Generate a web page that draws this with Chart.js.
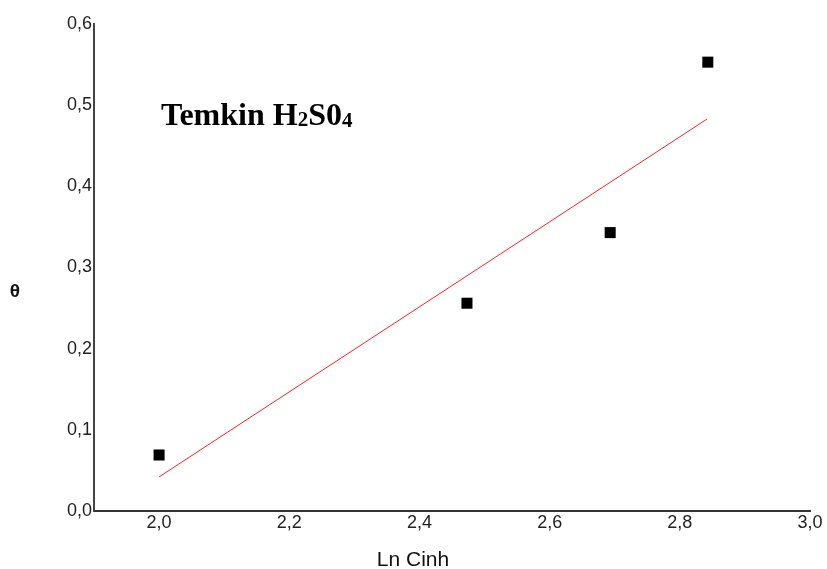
<!DOCTYPE html>
<html>
<head>
<meta charset="utf-8">
<script src="https://cdn.jsdelivr.net/npm/chart.js@4"></script>
<style>
  html, body { margin: 0; padding: 0; background: #fff; }
  #wrap { width: 827px; height: 569px; }
</style>
</head>
<body>
<div id="wrap"><canvas id="temkin" width="827" height="569"></canvas></div>
<script>
// measured points
var lnC = [2.0, 2.473, 2.693, 2.843];
var theta = [0.069, 0.256, 0.343, 0.553];

// fitted line ends
var fitX = [2.0, 2.842];
var fitY = [0.042, 0.483];

var xTicks = [2.0, 2.2, 2.4, 2.6, 2.8, 3.0];
var yTicks = [0.0, 0.1, 0.2, 0.3, 0.4, 0.5, 0.6];

var pts = lnC.map((x, i) => ({x: x, y: theta[i]}));
var fit = fitX.map((x, i) => ({x: x, y: fitY[i]}));

function comma(v) {
  return v.toFixed(1).replace('.', ',');
}

// extra texts: axis titles and the annotation
var labelsPlugin = {
  id: 'labels',
  afterDraw: function(chart) {
    var ctx = chart.ctx;
    ctx.save();
    ctx.fillStyle = '#111';
    ctx.textBaseline = 'alphabetic';

    ctx.font = '21px "Liberation Sans", Arial, sans-serif';
    ctx.textAlign = 'center';
    ctx.fillText('Ln Cinh', 413, 566);

    ctx.font = 'bold 19px "Liberation Sans", Arial, sans-serif';
    ctx.fillText('θ', 15, 297);

    // Temkin H2S04 with small digits
    ctx.fillStyle = '#000';
    ctx.textAlign = 'left';
    var x = 161, base = 125;
    var parts = [['Temkin H', 32, 0], ['2', 21, 1], ['S0', 32, 0], ['4', 21, 2]];
    parts.forEach(function(p) {
      ctx.font = 'bold ' + p[1] + 'px "Liberation Serif", "Times New Roman", serif';
      ctx.fillText(p[0], x, base + p[2]);
      x += ctx.measureText(p[0]).width;
    });
    ctx.restore();
  }
};

var ctx = document.getElementById('temkin');

var myChart = new Chart(ctx, {
  type: 'scatter',
  data: {
    datasets: [
      {
        label: 'fit',
        data: fit,
        showLine: true,
        borderColor: '#ff2020',
        borderWidth: 1,
        pointRadius: 0,
        fill: false
      },
      {
        label: 'θ',
        data: pts,
        pointStyle: 'rect',
        pointRadius: 7.8,
        pointBorderWidth: 0,
        backgroundColor: '#000',
        borderColor: '#000'
      }
    ]
  },
  options: {
    responsive: false,
    animation: false,
    layout: { padding: { top: 24, right: 17, left: 0, bottom: 0 } },
    plugins: {
      legend: { display: false },
      tooltip: { enabled: false }
    },
    scales: {
      x: {
        type: 'linear',
        min: 1.9,
        max: 3.0,
        grid: { display: false, drawTicks: false },
        border: { display: true, color: '#333', width: 2 },
        afterBuildTicks: function(scale) {
          scale.ticks = xTicks.map(v => ({value: v}));
        },
        afterFit: function(scale) { scale.height = 58; },
        ticks: {
          padding: 1,
          color: '#222',
          font: { family: '"Liberation Sans", Arial, sans-serif', size: 18 },
          maxRotation: 0,
          callback: function(v) { return comma(v); }
        }
      },
      y: {
        type: 'linear',
        min: 0,
        max: 0.6,
        grid: { display: false, drawTicks: false },
        border: { display: true, color: '#444', width: 2 },
        afterBuildTicks: function(scale) {
          scale.ticks = yTicks.map(v => ({value: v}));
        },
        afterFit: function(scale) { scale.width = 94; },
        ticks: {
          padding: 2,
          color: '#222',
          font: { family: '"Liberation Sans", Arial, sans-serif', size: 18 },
          callback: function(v) { return comma(v); }
        }
      }
    }
  },
  plugins: [labelsPlugin]
});
</script>
</body>
</html>
